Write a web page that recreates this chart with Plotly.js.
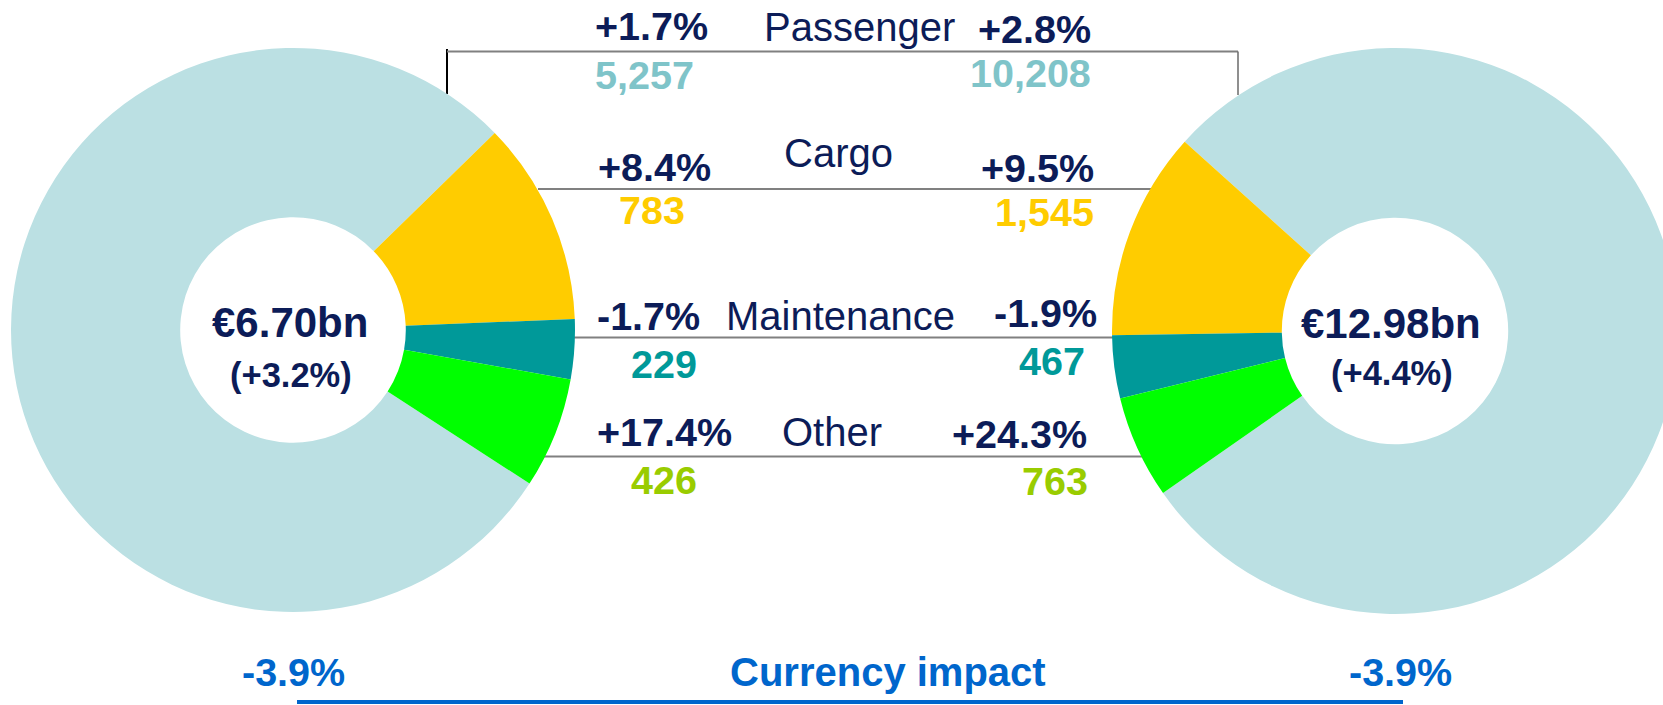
<!DOCTYPE html>
<html><head><meta charset="utf-8">
<script src="https://cdn.plot.ly/plotly-3.0.1.min.js"></script>
<style>
html,body{margin:0;padding:0;overflow:hidden;background:#fff;width:1663px;height:705px}
#chart{width:1700px;height:705px}
</style>
</head><body><div id="chart"></div>
<script>
// ---- data ----
const categories = ['Passenger', 'Cargo', 'Maintenance', 'Other'];
const revenuePrev = [5257, 783, 229, 426];
const revenueCurr = [10208, 1545, 467, 763];
const growthPrev = ['+1.7%', '+8.4%', '-1.7%', '+17.4%'];
const growthCurr = ['+2.8%', '+9.5%', '-1.9%', '+24.3%'];
const totalLabels = ['€6.70bn', '€12.98bn'];
const totalGrowth = ['(+3.2%)', '(+4.4%)'];
const currencyImpact = ['-3.9%', '-3.9%'];
const currencyLabel = 'Currency impact';

// ---- layout / styling ----
const W = 1700, H = 705;
const px = x => x / W;
const py = y => 1 - y / H;
const FONT = 'Liberation Sans, Arial, sans-serif';
const NAVY = '#0C1C58';
const BLUE = '#0066CC';
const sliceColors = ['#BBE0E3', '#FFCC00', '#009999', '#00FF00'];
const valueColors = ['#7FC4C9', '#FFCC00', '#009999', '#99CC00'];

const leftPctPos = [[651.5, 26.2], [654, 166.9], [648.5, 316.2], [664.5, 432.2]];
const leftValPos = [[644, 75.5], [652, 209.5], [664, 363.9], [663.5, 479.5]];
const labelPos = [[859.5, 26.5], [838, 152.7], [840, 316], [832, 432]];
const rightPctPos = [[1034, 28.9], [1037, 167.9], [1045.5, 312.9], [1019.5, 434.2]];
const rightValPos = [[1030, 72.9], [1044.5, 212.2], [1052, 361.2], [1054.5, 481.2]];
const totalPos = [[290, 322.6], [1391, 323.3]];
const totalGrowthPos = [[290.5, 374.6], [1391.5, 373]];
const currencyPos = [[293.4, 672.2], [1400, 672.2]];
const currencyLabelPos = [888, 671.9];

const fmt = v => v.toLocaleString('en-US');

const traces = [
  {
    type: 'pie', values: revenuePrev, labels: categories, sort: false,
    direction: 'clockwise', rotation: 123, hole: 0.4,
    marker: {colors: sliceColors, line: {width: 0}},
    textinfo: 'none', hoverinfo: 'label+value', showlegend: false,
    domain: {x: [px(11), px(575)], y: [py(612), py(48)]}
  },
  {
    type: 'pie', values: revenueCurr, labels: categories, sort: false,
    direction: 'counterclockwise', rotation: -48, hole: 0.4,
    marker: {colors: sliceColors, line: {width: 0}},
    textinfo: 'none', hoverinfo: 'label+value', showlegend: false,
    domain: {x: [px(1112), px(1678)], y: [py(614), py(48)]}
  }
];

const ann = [];
function addText(text, pos, size, color, bold) {
  ann.push({
    text: bold ? '<b>' + text + '</b>' : text,
    x: px(pos[0]), y: py(pos[1]), xref: 'paper', yref: 'paper',
    xanchor: 'center', yanchor: 'middle', showarrow: false,
    font: {family: FONT, size: size, color: color}
  });
}
categories.forEach((c, i) => {
  addText(growthPrev[i], leftPctPos[i], 39.5, NAVY, true);
  addText(fmt(revenuePrev[i]), leftValPos[i], 39.5, valueColors[i], true);
  addText(c, labelPos[i], 40, NAVY, false);
  addText(growthCurr[i], rightPctPos[i], 39.5, NAVY, true);
  addText(fmt(revenueCurr[i]), rightValPos[i], 39.5, valueColors[i], true);
});
for (let k = 0; k < 2; k++) {
  addText(totalLabels[k], totalPos[k], 42, NAVY, true);
  addText(totalGrowth[k], totalGrowthPos[k], 34.5, NAVY, true);
  addText(currencyImpact[k], currencyPos[k], 39.5, BLUE, true);
}
addText(currencyLabel, currencyLabelPos, 40, BLUE, true);

function line(x0, y0, x1, y1, color, width) {
  return {type: 'line', xref: 'paper', yref: 'paper', layer: 'below',
    x0: px(x0), y0: py(y0), x1: px(x1), y1: py(y1),
    line: {color: color, width: width}};
}
const shapes = [
  line(447, 49, 447, 94, '#000000', 2),
  line(447, 51.5, 1238, 51.5, '#808080', 2),
  line(1238, 51.5, 1238, 95, '#6a6a6a', 1.5),
  line(538, 189, 1151, 189, '#808080', 2),
  line(573, 337.5, 1113, 337.5, '#808080', 2),
  line(541, 456.5, 1149, 456.5, '#808080', 2),
  line(297, 702, 1403, 702, BLUE, 4)
];

const layout = {
  width: W, height: H,
  margin: {l: 0, r: 0, t: 0, b: 0, pad: 0},
  paper_bgcolor: '#ffffff', plot_bgcolor: '#ffffff',
  showlegend: false,
  annotations: ann, shapes: shapes
};
Plotly.newPlot('chart', traces, layout, {displayModeBar: false, staticPlot: true});
</script>
</body></html>
